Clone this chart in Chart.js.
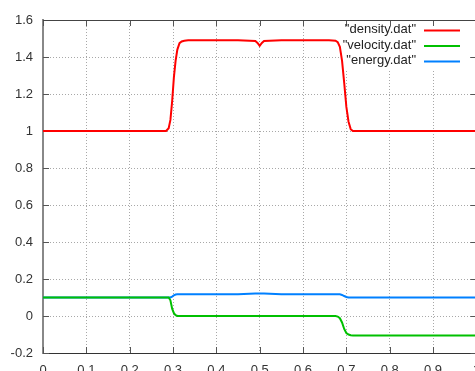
<!DOCTYPE html>
<html>
<head>
<meta charset="utf-8">
<script src="https://cdn.jsdelivr.net/npm/chart.js@4"></script>
<style>
    html, body { margin: 0; padding: 0; overflow: hidden; background: #fff; }
    #plot { display: block; }
</style>
</head>
<body>
<canvas id="plot" width="490" height="385" style="width:490px;height:385px"></canvas>
<script>
// sampled positions along x
const xs = [0, 0.284, 0.29, 0.294, 0.298, 0.302, 0.306, 0.31, 0.315, 0.32, 0.326, 0.335,
            0.45, 0.49, 0.495, 0.5, 0.505, 0.51, 0.55, 0.66, 0.675, 0.68, 0.685, 0.69,
            0.695, 0.7, 0.705, 0.71, 0.715, 0.72, 1];

const density = [1, 1, 1.015, 1.06, 1.16, 1.29, 1.38, 1.44, 1.475, 1.484, 1.488, 1.49,
                 1.49, 1.486, 1.476, 1.46, 1.476, 1.487, 1.49, 1.49, 1.488, 1.48, 1.455, 1.38,
                 1.26, 1.13, 1.05, 1.01, 1.0, 1, 1];

const velocity = [0.1, 0.1, 0.1, 0.085, 0.04, 0.015, 0.005, 0, 0, 0, 0, 0,
                  0, 0, 0, 0, 0, 0, 0, 0, 0, -0.003, -0.012, -0.035,
                  -0.07, -0.092, -0.1, -0.104, -0.105, -0.105, -0.105];

const energy = [0.1, 0.1, 0.1, 0.1, 0.105, 0.112, 0.116, 0.117, 0.117, 0.117, 0.117, 0.117,
                0.117, 0.121, 0.121, 0.121, 0.121, 0.121, 0.117, 0.117, 0.117, 0.117, 0.117, 0.114,
                0.108, 0.103, 0.1, 0.1, 0.1, 0.1, 0.1];

const seriesNames = ['"density.dat"', '"velocity.dat"', '"energy.dat"'];
const seriesColors = ['#ff0000', '#00c000', '#0080ff'];

const xTicks = [0, 0.1, 0.2, 0.3, 0.4, 0.5, 0.6, 0.7, 0.8, 0.9, 1];
const yTicks = [-0.2, 0, 0.2, 0.4, 0.6, 0.8, 1, 1.2, 1.4, 1.6];

const toPoints = (ys) => xs.map((x, i) => ({ x: x, y: ys[i] }));

// gnuplot style frame: top border, inward tick marks, key box
const gnuplotFrame = {
    id: 'gnuplotFrame',
    beforeDatasetsDraw(chart) {
        const ctx = chart.ctx;
        const a = chart.chartArea;
        const xs_ = chart.scales.x, ys_ = chart.scales.y;
        ctx.save();
        // key background
        ctx.fillStyle = '#fff';
        ctx.fillRect(344, a.top + 1, a.right - 344 - 8, 48);
        // inward ticks
        ctx.strokeStyle = '#555';
        ctx.lineWidth = 1;
        ctx.beginPath();
        xTicks.forEach(v => {
            const p = Math.round(xs_.getPixelForValue(v)) + 0.5;
            ctx.moveTo(p, a.bottom); ctx.lineTo(p, a.bottom - 6);
            ctx.moveTo(p, a.top); ctx.lineTo(p, a.top + 6);
        });
        yTicks.forEach(v => {
            const p = Math.round(ys_.getPixelForValue(v)) + 0.5;
            ctx.moveTo(a.left, p); ctx.lineTo(a.left + 6, p);
            ctx.moveTo(a.right, p); ctx.lineTo(a.right - 6, p);
        });
        ctx.stroke();
        // top border
        ctx.strokeStyle = '#444';
        ctx.beginPath();
        ctx.moveTo(a.left, a.top + 0.5);
        ctx.lineTo(a.right, a.top + 0.5);
        ctx.stroke();
        ctx.restore();
    },
    afterDatasetsDraw(chart) {
        const ctx = chart.ctx;
        ctx.save();
        ctx.font = '13px "Liberation Sans", Arial, sans-serif';
        ctx.textAlign = 'right';
        ctx.textBaseline = 'middle';
        chart.data.datasets.forEach((ds, i) => {
            const y = 29.5 + i * 15.5;
            ctx.fillStyle = '#222';
            ctx.fillText(ds.label, 416, y);
            ctx.strokeStyle = ds.borderColor;
            ctx.lineWidth = 2;
            ctx.beginPath();
            ctx.moveTo(424, y + 1);
            ctx.lineTo(460, y + 1);
            ctx.stroke();
        });
        ctx.restore();
    }
};

document.addEventListener('DOMContentLoaded', function() {
    const chartCtx = document.getElementById('plot').getContext('2d');
    new Chart(chartCtx, {
        type : 'line',
        data : {
            datasets : [density, velocity, energy].map((ys, i) => ({
                label : seriesNames[i],
                data : toPoints(ys),
                borderColor : seriesColors[i],
                backgroundColor : seriesColors[i],
                borderWidth : 2,
                pointRadius : 0,
                tension : 0,
                fill : false
            }))
        },
        options : {
            responsive : false,
            devicePixelRatio : 1,
            animation : false,
            layout : {
                padding : { top : 20, right : 12, left : 0, bottom : 0 }
            },
            plugins : {
                legend : { display : false },
                tooltip : { enabled : false }
            },
            scales : {
                x : {
                    type : 'linear',
                    min : 0,
                    max : 1,
                    afterFit : function(scale) { scale.height = 32; },
                    afterBuildTicks : function(scale) {
                        scale.ticks = xTicks.map(v => ({ value : v }));
                    },
                    grid : {
                        color : '#a8a8a8',
                        drawTicks : false
                    },
                    border : {
                        color : '#333',
                        width : 1,
                        dash : [1, 2]
                    },
                    ticks : {
                        padding : 10,
                        color : '#333',
                        maxRotation : 0,
                        autoSkip : false,
                        font : { family : '"Liberation Sans", Arial, sans-serif', size : 13 },
                        callback : (v) => String(v)
                    }
                },
                y : {
                    type : 'linear',
                    min : -0.2,
                    max : 1.6,
                    afterFit : function(scale) { scale.width = 43; },
                    afterBuildTicks : function(scale) {
                        scale.ticks = yTicks.map(v => ({ value : v }));
                    },
                    grid : {
                        color : '#a8a8a8',
                        drawTicks : false
                    },
                    border : {
                        color : '#888',
                        width : 2,
                        dash : [1, 2]
                    },
                    ticks : {
                        padding : 10,
                        color : '#333',
                        autoSkip : false,
                        font : { family : '"Liberation Sans", Arial, sans-serif', size : 13 },
                        callback : (v) => String(Math.round(v * 10) / 10)
                    }
                }
            }
        },
        plugins : [gnuplotFrame]
    });
});
</script>
</body>
</html>
